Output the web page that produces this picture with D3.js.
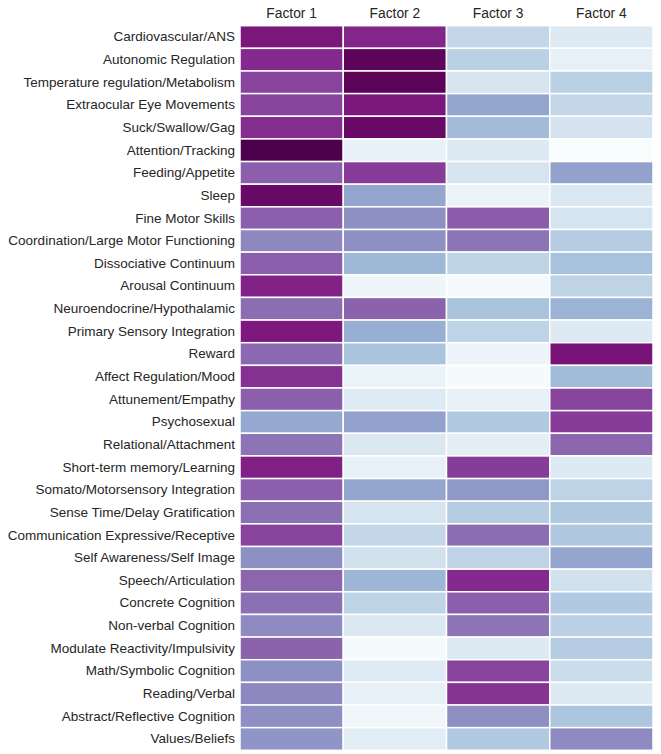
<!DOCTYPE html>
<html>
<head>
<meta charset="utf-8">
<script src="https://cdn.jsdelivr.net/npm/d3@7"></script>
<style>
  html, body { margin: 0; padding: 0; background: #fff; }
  svg { display: block; }
</style>
</head>
<body>
<svg id="chart" width="661" height="754"></svg>
<script>
const factors = ["Factor 1", "Factor 2", "Factor 3", "Factor 4"];
const domains = [
  "Cardiovascular/ANS", "Autonomic Regulation", "Temperature regulation/Metabolism",
  "Extraocular Eye Movements", "Suck/Swallow/Gag", "Attention/Tracking", "Feeding/Appetite",
  "Sleep", "Fine Motor Skills", "Coordination/Large Motor Functioning", "Dissociative Continuum",
  "Arousal Continuum", "Neuroendocrine/Hypothalamic", "Primary Sensory Integration", "Reward",
  "Affect Regulation/Mood", "Attunement/Empathy", "Psychosexual", "Relational/Attachment",
  "Short-term memory/Learning", "Somato/Motorsensory Integration", "Sense Time/Delay Gratification",
  "Communication Expressive/Receptive", "Self Awareness/Self Image", "Speech/Articulation",
  "Concrete Cognition", "Non-verbal Cognition", "Modulate Reactivity/Impulsivity",
  "Math/Symbolic Cognition", "Reading/Verbal", "Abstract/Reflective Cognition", "Values/Beliefs"
];
// loadings per factor (0..1), one value per domain, in domain order
const factor1 = [0.87, 0.81, 0.74, 0.74, 0.80, 1.00, 0.66, 0.93, 0.66, 0.54, 0.66, 0.83, 0.62, 0.86, 0.63, 0.79,
                 0.66, 0.44, 0.60, 0.84, 0.66, 0.61, 0.74, 0.52, 0.64, 0.61, 0.53, 0.65, 0.52, 0.54, 0.52, 0.50];
const factor2 = [0.82, 0.96, 0.965, 0.87, 0.93, 0.08, 0.76, 0.45, 0.52, 0.52, 0.38, 0.05, 0.65, 0.42, 0.33, 0.07,
                 0.12, 0.46, 0.14, 0.09, 0.45, 0.16, 0.23, 0.18, 0.39, 0.25, 0.14, 0.01, 0.12, 0.09, 0.04, 0.11];
const factor3 = [0.23, 0.27, 0.16, 0.45, 0.37, 0.13, 0.16, 0.07, 0.67, 0.60, 0.25, 0.01, 0.33, 0.25, 0.06, 0.01,
                 0.09, 0.30, 0.10, 0.76, 0.49, 0.29, 0.62, 0.25, 0.81, 0.66, 0.60, 0.13, 0.74, 0.78, 0.52, 0.30];
const factor4 = [0.13, 0.09, 0.27, 0.23, 0.17, 0.00, 0.46, 0.14, 0.16, 0.29, 0.34, 0.25, 0.40, 0.13, 0.88, 0.37,
                 0.74, 0.76, 0.64, 0.13, 0.25, 0.31, 0.31, 0.45, 0.18, 0.30, 0.26, 0.29, 0.20, 0.13, 0.32, 0.53];
const seriesValues = [factor1, factor2, factor3, factor4];

const cells = [];
domains.forEach((d, i) => {
  factors.forEach((f, j) => {
    cells.push({ row: d, col: f, value: seriesValues[j][i] });
  });
});

const svg = d3.select("#chart");
const margin = { left: 240, right: 8, top: 25.7, bottom: 3.7 };
const W = 661, H = 754;

const x = d3.scaleBand().domain(factors).range([margin.left, W - margin.right]).padding(0);
const y = d3.scaleBand().domain(domains).range([margin.top, H - margin.bottom]).padding(0);
const color = d3.scaleSequential(d3.interpolateBuPu).domain([0, 1]);

svg.append("g")
  .selectAll("rect")
  .data(cells)
  .join("rect")
  .attr("x", d => x(d.col))
  .attr("y", d => y(d.row))
  .attr("width", x.bandwidth())
  .attr("height", y.bandwidth())
  .attr("fill", d => color(d.value))
  .attr("stroke", "#ffffff")
  .attr("stroke-width", 1.5);

const font = "'Liberation Sans', Arial, Helvetica, sans-serif";

const yAxis = d3.axisLeft(y).tickSize(0).tickPadding(5);
const gy = svg.append("g").attr("transform", `translate(${margin.left},0)`).call(yAxis);
gy.select(".domain").remove();
gy.selectAll("text").attr("font-family", font).attr("font-size", 13.5).attr("fill", "#262626");

const xAxis = d3.axisTop(x).tickSize(0).tickPadding(8);
const gx = svg.append("g").attr("transform", `translate(0,${margin.top})`).call(xAxis);
gx.select(".domain").remove();
gx.selectAll("text").attr("font-family", font).attr("font-size", 13.8).attr("fill", "#262626");
</script>
</body>
</html>
